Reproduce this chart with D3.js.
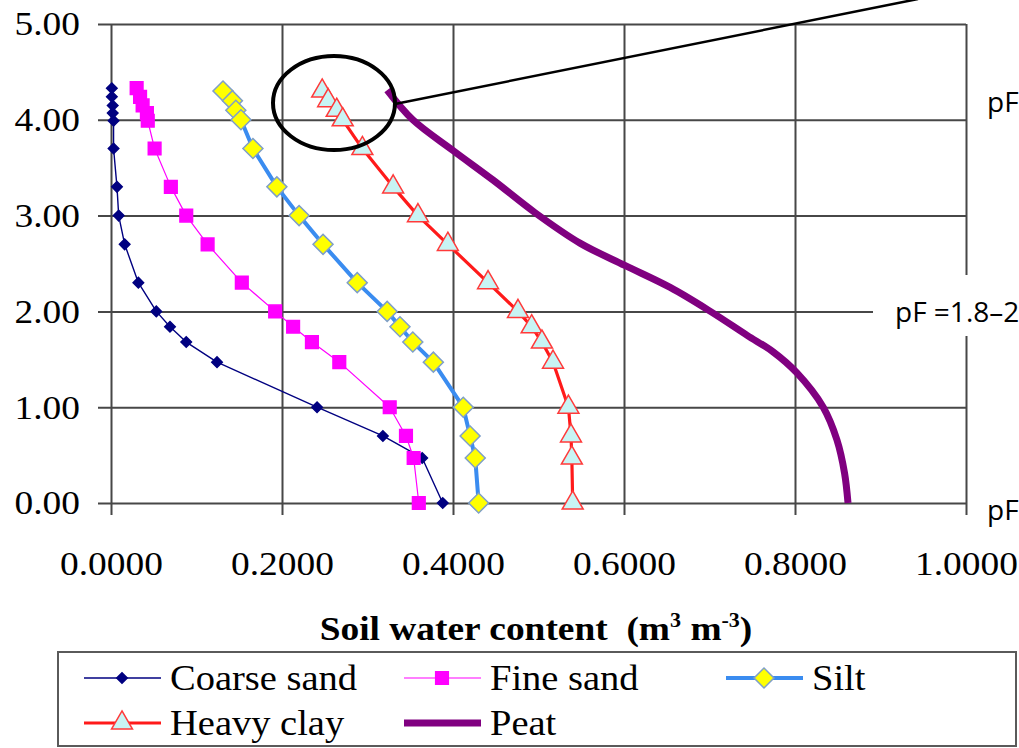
<!DOCTYPE html>
<html>
<head>
<meta charset="utf-8">
<script src="https://cdn.jsdelivr.net/npm/d3@7"></script>
<style>
  body { margin: 0; background: #fff; }
  svg { display: block; }
  .serif { font-family: "Liberation Serif", "Times New Roman", serif; fill: #000; }
  .sans { font-family: "Open Sans", sans-serif; fill: #000; }
</style>
</head>
<body>
<div id="wrapper"></div>
<script>
// 1. Data (pF levels and soil water content in m3 m-3)

const sandPF = [4.33, 4.24, 4.15, 4.07, 3.99, 3.7, 3.3, 3.0, 2.7, 2.3, 2.0, 1.84, 1.68, 1.47, 1.0, 0.7, 0.47, 0];
const coarseSandTheta = [0.001, 0.001, 0.002, 0.002, 0.003, 0.003, 0.007, 0.009, 0.016, 0.032, 0.053, 0.069, 0.088, 0.124, 0.241, 0.318, 0.364, 0.388];
const fineSandTheta = [0.030, 0.034, 0.037, 0.042, 0.043, 0.051, 0.070, 0.088, 0.113, 0.153, 0.192, 0.213, 0.235, 0.267, 0.326, 0.345, 0.354, 0.360];

const pFLevels = [4.3, 4.2, 4.1, 4.0, 3.7, 3.3, 3.0, 2.7, 2.3, 2.0, 1.84, 1.68, 1.47, 1.0, 0.7, 0.47, 0];
const siltTheta = [0.131, 0.142, 0.146, 0.152, 0.166, 0.194, 0.220, 0.248, 0.288, 0.323, 0.338, 0.353, 0.377, 0.412, 0.420, 0.426, 0.430];
const heavyClayTheta = [0.247, 0.254, 0.264, 0.271, 0.294, 0.330, 0.359, 0.394, 0.441, 0.476, 0.492, 0.504, 0.517, 0.535, 0.538, 0.539, 0.540];

const peatPF = [4.31, 4.0, 3.68, 3.37, 3.03, 2.71, 2.48, 2.25, 2.0, 1.75, 1.58, 1.36, 1.0, 0.66, 0.31, 0];
const peatTheta = [0.323, 0.353, 0.400, 0.447, 0.496, 0.549, 0.601, 0.654, 0.701, 0.744, 0.774, 0.802, 0.833, 0.849, 0.858, 0.862];

const seriesNames = ["Coarse sand", "Fine sand", "Silt", "Heavy clay", "Peat"];
const xTicks = [0, 0.2, 0.4, 0.6, 0.8, 1.0];
const yTicks = [0, 1, 2, 3, 4, 5];
const xTitle = "Soil water content  (m";
const pFLabels = ["pF", "pF =1.8\u20132", "pF"];

const zip = (xs, ys) => xs.map((v, i) => ({ theta: v, pF: ys[i] }));

const series = [
  { name: seriesNames[0], data: zip(coarseSandTheta, sandPF), color: "#000080", width: 1.4,
    symbol: d3.symbolSquare, size: 55, rotate: 45, fill: "#000080", stroke: "#000080" },
  { name: seriesNames[1], data: zip(fineSandTheta, sandPF), color: "#ff00ff", width: 1.2,
    symbol: d3.symbolSquare, size: 160, rotate: 0, fill: "#ff00ff", stroke: "#ff00ff" },
  { name: seriesNames[2], data: zip(siltTheta, pFLevels), color: "#3a8cf0", width: 4,
    symbol: d3.symbolSquare, size: 200, rotate: 45, fill: "#ffff00", stroke: "#7f9fc8" },
  { name: seriesNames[3], data: zip(heavyClayTheta, pFLevels), color: "#ff1a1a", width: 3.2,
    symbol: d3.symbolTriangle, size: 190, rotate: 0, fill: "#c8f4f4", stroke: "#ff3a3a" },
  { name: seriesNames[4], data: zip(peatTheta, peatPF), color: "#800080", width: 7,
    symbol: null, curve: d3.curveCatmullRom },
];

// 2. Dimensions

const dimensions = {
  width: 1019,
  height: 748,
  margin: { top: 24, left: 111 },
  boundedWidth: 855,
  boundedHeight: 479,
};

// stretch serif text horizontally like the source picture
function stretch(sel, sx) {
  sel.each(function () {
    const t = d3.select(this);
    const x = +t.attr("x") || 0;
    const y = +t.attr("y") || 0;
    t.attr("x", 0).attr("y", 0)
      .attr("transform", `translate(${x},${y}) scale(${sx},1)`);
  });
}

// 3. Canvas

const wrapper = d3.select("#wrapper")
  .append("svg")
    .attr("width", dimensions.width)
    .attr("height", dimensions.height);

wrapper.append("rect")
  .attr("width", dimensions.width)
  .attr("height", dimensions.height)
  .attr("fill", "#fff");

const bounds = wrapper.append("g")
  .attr("transform", `translate(${dimensions.margin.left},${dimensions.margin.top})`);

// 4. Scales

const xScale = d3.scaleLinear()
  .domain([0, 1])
  .range([0, dimensions.boundedWidth]);

const yScale = d3.scaleLinear()
  .domain([0, 5])
  .range([dimensions.boundedHeight, 0]);

// 5. Grid (grid lines run past the plot as tick marks)

const gridColor = "#474747";

const xGrid = bounds.append("g")
  .call(d3.axisBottom(xScale).tickValues(xTicks).tickSize(dimensions.boundedHeight + 12).tickFormat(""));
xGrid.select(".domain").remove();
xGrid.selectAll("line").attr("stroke", gridColor).attr("stroke-width", 2);

const yGrid = bounds.append("g")
  .attr("transform", `translate(${dimensions.boundedWidth},0)`)
  .call(d3.axisLeft(yScale).tickValues(yTicks).tickSize(dimensions.boundedWidth + 13).tickFormat(""));
yGrid.select(".domain").remove();
yGrid.selectAll("line").attr("stroke", gridColor).attr("stroke-width", 2);

// tick labels

const xAxis = bounds.append("g")
  .attr("transform", `translate(0,${dimensions.boundedHeight})`)
  .call(d3.axisBottom(xScale).tickValues(xTicks).tickSize(0).tickPadding(48).tickFormat(d3.format(".4f")));
xAxis.select(".domain").remove();
xAxis.selectAll("text")
  .attr("class", "serif")
  .style("font-size", "34px")
  .call(stretch, 1.1);

const yAxis = bounds.append("g")
  .call(d3.axisLeft(yScale).tickValues(yTicks).tickSize(0).tickPadding(31).tickFormat(d3.format(".2f")));
yAxis.select(".domain").remove();
yAxis.selectAll("text")
  .attr("class", "serif")
  .style("font-size", "34px")
  .call(stretch, 1.1);

// axis title
const title = wrapper.append("text")
  .attr("class", "serif")
  .attr("x", 536)
  .attr("y", 640)
  .attr("text-anchor", "middle")
  .style("font-size", "34px")
  .style("font-weight", "bold")
  .style("white-space", "pre");
title.append("tspan").text(xTitle);
title.append("tspan").attr("dy", -13).style("font-size", "20px").text("3");
title.append("tspan").attr("dy", 13).text(" m");
title.append("tspan").attr("dy", -13).style("font-size", "20px").text("-3");
title.append("tspan").attr("dy", 13).text(")");
title.call(stretch, 1.1);

// 6. Draw data

const lineGenerator = s => d3.line()
  .x(d => xScale(d.theta))
  .y(d => yScale(d.pF))
  .curve(s.curve || d3.curveLinear);

function drawMarker(sel, s) {
  sel.attr("d", d3.symbol().type(s.symbol).size(s.size)())
    .attr("fill", s.fill)
    .attr("stroke", s.stroke)
    .attr("stroke-width", 1.5);
}

series.forEach(s => {
  const g = bounds.append("g");
  g.append("path")
    .datum(s.data)
    .attr("fill", "none")
    .attr("stroke", s.color)
    .attr("stroke-width", s.width)
    .attr("stroke-linejoin", "round")
    .attr("d", lineGenerator(s));

  if (s.symbol) {
    g.selectAll(".marker")
      .data(s.data)
      .join("path")
        .attr("class", "marker")
        .attr("transform", d => `translate(${xScale(d.theta)},${yScale(d.pF)}) rotate(${s.rotate})`)
        .call(drawMarker, s);
  }
});

// 7. Annotations

wrapper.append("ellipse")
  .attr("cx", 334)
  .attr("cy", 103)
  .attr("rx", 61)
  .attr("ry", 47)
  .attr("fill", "none")
  .attr("stroke", "#000")
  .attr("stroke-width", 4);

wrapper.append("line")
  .attr("x1", 395).attr("y1", 104)
  .attr("x2", 918).attr("y2", -1)
  .attr("stroke", "#000")
  .attr("stroke-width", 2.5);

wrapper.append("rect")
  .attr("x", 873).attr("y", 275)
  .attr("width", 146).attr("height", 61)
  .attr("fill", "#fff");

const pFPositions = [[987, 112], [895, 322], [987, 520]];
wrapper.selectAll(".pf-label")
  .data(pFLabels)
  .join("text")
    .attr("class", "pf-label sans")
    .attr("x", (d, i) => pFPositions[i][0])
    .attr("y", (d, i) => pFPositions[i][1])
    .style("font-size", "28px")
    .text(d => d);

// 8. Legend

const legend = wrapper.append("g");
legend.append("rect")
  .attr("x", 58).attr("y", 652)
  .attr("width", 958).attr("height", 94)
  .attr("fill", "#fff")
  .attr("stroke", "#5a5a5a")
  .attr("stroke-width", 2);

const colX = [84, 404, 726];
const rowY = [678, 723];

series.forEach((s, i) => {
  const x0 = colX[i % 3];
  const y0 = rowY[Math.floor(i / 3)];
  const item = legend.append("g").attr("transform", `translate(${x0},${y0})`);
  item.append("line")
    .attr("x1", 0).attr("x2", 77)
    .attr("stroke", s.color)
    .attr("stroke-width", s.width);
  if (s.symbol) {
    item.append("path")
      .attr("transform", `translate(38,0) rotate(${s.rotate})`)
      .call(drawMarker, s);
  }
  item.append("text")
    .attr("class", "serif")
    .attr("x", 86)
    .attr("y", 12)
    .style("font-size", "35px")
    .text(s.name)
    .call(stretch, 1.1);
});
</script>
</body>
</html>
